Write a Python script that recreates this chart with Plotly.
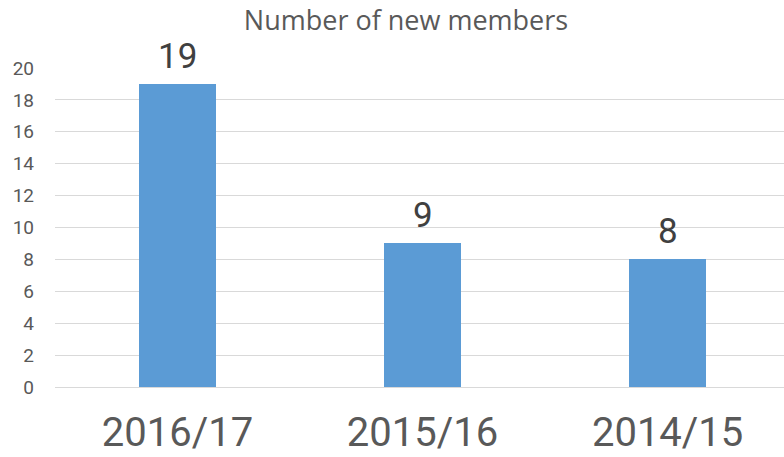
import plotly.graph_objects as go

categories = ["2016/17", "2015/16", "2014/15"]
new_members = [19, 9, 8]
y_ticks = [0, 2, 4, 6, 8, 10, 12, 14, 16, 18, 20]

fig = go.Figure(go.Bar(
    x=categories, y=new_members,
    marker=dict(color="#5b9bd5", line=dict(width=0)),
    width=0.315,
    cliponaxis=False,
))

for c, v in zip(categories, new_members):
    fig.add_annotation(x=c, y=v, text=str(v), showarrow=False,
                       xanchor="center", yanchor="bottom", yshift=6, borderpad=0,
                       font=dict(family="Roboto", size=35, color="#404040"))

fig.update_layout(
    width=784, height=457,
    margin=dict(l=55, r=0, t=68, b=70, autoexpand=False),
    paper_bgcolor="white", plot_bgcolor="white",
    showlegend=False,
    title=dict(text="Number of new members", x=406/784, xanchor="center",
               y=1 - 21/457, yanchor="middle",
               font=dict(family="Open Sans", size=27, color="#595959")),
    xaxis=dict(range=[-0.5, 2.475], showgrid=False, showline=False, zeroline=False,
               automargin=False,
               tickfont=dict(family="Roboto", size=40, color="#595959"),
               ticklabelstandoff=18),
    yaxis=dict(range=[0, 20], tickvals=y_ticks, showgrid=True, gridcolor="#d9d9d9",
               gridwidth=1, zeroline=True, zerolinecolor="#d9d9d9", zerolinewidth=1,
               automargin=False,
               tickfont=dict(family="Roboto", size=19, color="#595959"),
               ticklabelstandoff=20),
    bargap=0,
)

fig.write_html("out.html", config={"displayModeBar": False},
               post_script="document.body.style.margin='0';document.body.style.overflow='hidden';")
